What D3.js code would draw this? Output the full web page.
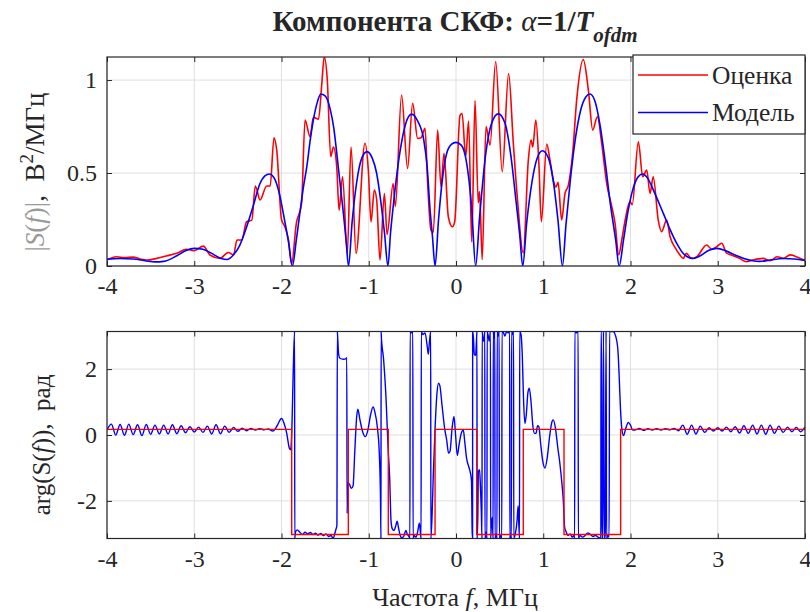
<!DOCTYPE html>
<html>
<head>
<meta charset="utf-8">
<script src="https://cdn.jsdelivr.net/npm/d3@7"></script>
<style>
body { margin: 0; background: #fff; }
text { font-family: "Liberation Serif", "Times New Roman", serif; fill: #262626; }
</style>
</head>
<body>
<div id="chart"></div>
<script>
// ticks
var freqTicks = [-4, -3, -2, -1, 0, 1, 2, 3, 4]
var magTicks = [0, 0.5, 1]
var phaseTicks = [-2, 0, 2]
var legendNames = ["Оценка", "Модель"]

// |S(f)| estimate (red), [f, value]
var estMag = [
  [-4.00, 0.032], [-3.89, 0.050], [-3.80, 0.045], [-3.70, 0.048], [-3.62, 0.038], [-3.545, 0.032],
  [-3.43, 0.041], [-3.32, 0.054], [-3.20, 0.068], [-3.09, 0.090], [-3.00, 0.082], [-2.896, 0.107],
  [-2.82, 0.059], [-2.705, 0.041], [-2.61, 0.073], [-2.55, 0.059], [-2.51, 0.140], [-2.456, 0.140],
  [-2.40, 0.238], [-2.34, 0.247], [-2.30, 0.430], [-2.246, 0.355], [-2.17, 0.430], [-2.13, 0.430],
  [-2.086, 0.690], [-2.055, 0.624], [-2.00, 0.250], [-1.96, 0.210], [-1.92, 0.140], [-1.885, 0.010],
  [-1.83, 0.229], [-1.77, 0.337], [-1.73, 0.785], [-1.673, 0.695], [-1.635, 0.800], [-1.576, 0.790],
  [-1.538, 0.980], [-1.51, 1.125], [-1.475, 0.999], [-1.436, 0.588], [-1.405, 0.640], [-1.367, 0.534],
  [-1.34, 0.300], [-1.30, 0.480], [-1.246, 0.068], [-1.203, 0.640], [-1.146, 0.068], [-1.043, 0.660],
  [-1.005, 0.516], [-0.974, 0.238], [-0.936, 0.409], [-0.909, 0.355], [-0.871, 0.032], [-0.821, 0.390],
  [-0.79, 0.170], [-0.72, 0.444], [-0.695, 0.320], [-0.624, 0.920], [-0.555, 0.525], [-0.497, 0.875],
  [-0.44, 0.686], [-0.40, 0.690], [-0.355, 0.740], [-0.325, 0.445], [-0.287, 0.193], [-0.26, 0.180],
  [-0.21, 0.731], [-0.172, 0.426], [-0.137, 0.606], [-0.088, 0.265], [-0.042, 0.211], [-0.015, 0.238],
  [0.046, 0.810], [0.07, 0.820], [0.111, 0.588], [0.145, 0.780], [0.18, 0.130], [0.218, 0.890],
  [0.255, 0.340], [0.27, 0.400], [0.30, 0.035], [0.344, 0.750], [0.39, 0.650], [0.455, 1.100],
  [0.53, 0.507], [0.603, 1.035], [0.657, 0.660], [0.705, 0.355], [0.771, 0.070], [0.829, 0.570],
  [0.86, 0.677], [0.88, 0.640], [0.915, 0.785], [0.95, 0.550], [0.978, 0.238], [1.04, 0.656],
  [1.077, 0.570], [1.116, 0.460], [1.146, 0.425], [1.17, 0.450], [1.211, 0.247], [1.249, 0.390],
  [1.288, 0.435], [1.337, 0.606], [1.383, 0.892], [1.459, 1.110], [1.517, 0.946], [1.567, 0.731],
  [1.62, 0.803], [1.67, 0.660], [1.727, 0.445], [1.785, 0.320], [1.823, 0.229], [1.865, 0.060],
  [1.90, 0.140], [1.94, 0.250], [1.994, 0.346], [2.02, 0.330], [2.09, 0.668], [2.14, 0.480],
  [2.186, 0.516], [2.224, 0.390], [2.26, 0.480], [2.318, 0.247], [2.357, 0.185], [2.415, 0.247],
  [2.454, 0.157], [2.51, 0.100], [2.567, 0.059], [2.605, 0.041], [2.64, 0.068], [2.70, 0.041],
  [2.76, 0.050], [2.873, 0.113], [2.93, 0.090], [2.99, 0.104], [3.045, 0.122], [3.10, 0.070],
  [3.15, 0.060], [3.25, 0.041], [3.33, 0.023], [3.40, 0.032], [3.52, 0.041], [3.60, 0.028],
  [3.68, 0.050], [3.75, 0.041], [3.83, 0.060], [3.90, 0.050], [4.00, 0.030]
]

// |S(f)| model (blue)
var modelMag = [
  [-4.00, 0.037], [-3.85, 0.040], [-3.70, 0.038], [-3.55, 0.027], [-3.45, 0.022], [-3.35, 0.025],
  [-3.20, 0.055], [-3.10, 0.082], [-3.00, 0.095], [-2.90, 0.090], [-2.80, 0.068], [-2.70, 0.042],
  [-2.62, 0.035], [-2.55, 0.060], [-2.48, 0.110], [-2.40, 0.210], [-2.32, 0.330], [-2.25, 0.440],
  [-2.19, 0.485], [-2.14, 0.495], [-2.08, 0.470], [-2.02, 0.380], [-1.97, 0.260], [-1.92, 0.130],
  [-1.875, 0.0], [-1.83, 0.140], [-1.79, 0.283], [-1.75, 0.420], [-1.71, 0.534], [-1.67, 0.680],
  [-1.635, 0.785], [-1.59, 0.880], [-1.55, 0.925], [-1.50, 0.915], [-1.44, 0.840], [-1.40, 0.740],
  [-1.37, 0.620], [-1.33, 0.450], [-1.29, 0.280], [-1.26, 0.140], [-1.232, 0.0], [-1.19, 0.240],
  [-1.14, 0.445], [-1.08, 0.580], [-1.02, 0.615], [-0.96, 0.580], [-0.91, 0.500], [-0.86, 0.340],
  [-0.82, 0.180], [-0.78, 0.0], [-0.75, 0.180], [-0.72, 0.320], [-0.64, 0.620], [-0.58, 0.760],
  [-0.51, 0.817], [-0.44, 0.780], [-0.37, 0.680], [-0.33, 0.530], [-0.30, 0.320], [-0.27, 0.160],
  [-0.24, 0.0], [-0.20, 0.250], [-0.16, 0.450], [-0.11, 0.600], [-0.05, 0.655], [0.00, 0.665],
  [0.06, 0.650], [0.12, 0.560], [0.18, 0.310], [0.225, 0.0], [0.27, 0.260], [0.34, 0.600],
  [0.41, 0.770], [0.485, 0.818], [0.56, 0.770], [0.63, 0.590], [0.69, 0.340], [0.73, 0.170],
  [0.765, 0.0], [0.81, 0.230], [0.87, 0.450], [0.93, 0.580], [0.99, 0.620], [1.06, 0.580],
  [1.12, 0.440], [1.17, 0.240], [1.22, 0.0], [1.26, 0.220], [1.31, 0.460], [1.37, 0.690],
  [1.43, 0.840], [1.49, 0.910], [1.535, 0.925], [1.59, 0.890], [1.65, 0.760], [1.71, 0.560],
  [1.77, 0.330], [1.83, 0.140], [1.87, 0.0], [1.92, 0.140], [1.97, 0.290], [2.02, 0.400],
  [2.08, 0.475], [2.14, 0.495], [2.20, 0.470], [2.27, 0.400], [2.376, 0.283], [2.45, 0.200],
  [2.53, 0.122], [2.60, 0.070], [2.65, 0.050], [2.72, 0.040], [2.80, 0.055], [2.90, 0.085],
  [2.99, 0.095], [3.10, 0.080], [3.21, 0.057], [3.30, 0.040], [3.40, 0.028], [3.48, 0.025],
  [3.60, 0.032], [3.75, 0.040], [3.88, 0.038], [4.00, 0.030]
]

// phase, red step line: level i holds from edge i to edge i+1
var estPhaseEdges = [-4, -1.883, -1.234, -0.776, -0.24, 0.237, 0.771, 1.238, 1.887, 4]
var estPhaseLevels = [0.17, -3.02, 0.17, -3.02, 0.17, -3.02, 0.17, -3.02, 0.17]

// phase, blue line (wrapped, jumps kept)
var modelPhase = [
  [-4.00, 0.15], [-3.95, 0.33], [-3.90, 0.00], [-3.85, 0.32], [-3.80, -0.01], [-3.75, 0.33],
  [-3.70, 0.01], [-3.65, 0.31], [-3.60, -0.02], [-3.55, 0.32], [-3.50, 0.02], [-3.45, 0.30],
  [-3.40, 0.03], [-3.35, 0.30], [-3.30, 0.03], [-3.25, 0.31], [-3.20, 0.04], [-3.15, 0.28],
  [-3.10, 0.07], [-3.05, 0.25], [-3.00, 0.09], [-2.95, 0.24], [-2.90, 0.08], [-2.85, 0.27],
  [-2.80, 0.03], [-2.75, 0.31], [-2.70, 0.04], [-2.65, 0.27], [-2.60, 0.08], [-2.55, 0.23],
  [-2.50, 0.11], [-2.45, 0.21], [-2.40, 0.13], [-2.35, 0.20], [-2.30, 0.15], [-2.25, 0.19],
  [-2.20, 0.16], [-2.15, 0.18], [-2.10, 0.12], [-2.05, 0.28], [-2.00, 0.50], [-1.97, 0.35],
  [-1.94, 0.05], [-1.91, -0.40], [-1.895, -0.45], [-1.88, 0.30], [-1.865, 2.00], [-1.85, 3.14],
  [-1.848, -3.14], [-1.84, -2.95], [-1.82, -2.88], [-1.79, -2.95], [-1.76, -3.02], [-1.73, -2.95],
  [-1.70, -3.00], [-1.67, -2.96], [-1.64, -3.02], [-1.61, -2.98], [-1.58, -3.04], [-1.55, -2.99],
  [-1.52, -3.05], [-1.49, -3.00], [-1.46, -3.08], [-1.43, -3.05], [-1.41, -3.14], [-1.38, -2.90],
  [-1.365, -2.74], [-1.36, 3.14], [-1.355, 2.90], [-1.345, 2.45], [-1.33, 2.33], [-1.29, 2.30],
  [-1.26, 2.32], [-1.252, 2.35], [-1.248, -2.38], [-1.24, -1.45], [-1.22, -1.50], [-1.20, -1.62],
  [-1.18, -1.55], [-1.16, -0.50], [-1.14, 0.50], [-1.125, 0.78], [-1.10, 0.45], [-1.07, 0.10],
  [-1.04, -0.05], [-1.01, 0.15], [-0.98, 0.60], [-0.95, 0.85], [-0.93, 0.70], [-0.90, 0.20],
  [-0.88, -0.50], [-0.865, -2.00], [-0.86, -3.14], [-0.858, 3.14], [-0.855, 2.95], [-0.83, 2.30],
  [-0.80, 1.00], [-0.78, -0.30], [-0.76, -1.30], [-0.745, -2.60], [-0.73, -2.85], [-0.71, -2.90],
  [-0.69, -2.75], [-0.675, -2.62], [-0.66, -2.80], [-0.64, -3.05], [-0.62, -3.12], [-0.60, -3.08],
  [-0.575, -2.90], [-0.56, -3.00], [-0.535, -3.10], [-0.528, -3.14], [-0.526, 3.14], [-0.515, 3.10],
  [-0.495, 3.14], [-0.492, -3.14], [-0.48, -3.05], [-0.46, -3.10], [-0.44, -2.95], [-0.42, -2.68],
  [-0.41, -2.90], [-0.40, -3.14], [-0.398, 3.14], [-0.38, 3.05], [-0.355, 3.10], [-0.33, 2.70],
  [-0.317, 2.45], [-0.305, 2.80], [-0.29, 3.14], [-0.288, -3.14], [-0.275, -2.50], [-0.26, -1.20],
  [-0.24, 0.20], [-0.22, 1.20], [-0.20, 1.57], [-0.185, 1.50], [-0.16, 0.90], [-0.13, 0.20],
  [-0.107, -0.15], [-0.085, -0.55], [-0.069, -0.50], [-0.045, 0.20], [-0.023, 0.56], [-0.005, 0.00],
  [0.015, -0.62], [0.035, -0.30], [0.06, 0.05], [0.084, 0.15], [0.10, -0.20], [0.122, -0.72],
  [0.145, -0.95], [0.165, -1.15], [0.178, -1.40], [0.185, -2.90], [0.19, -3.14], [0.191, 3.14],
  [0.20, 2.95], [0.21, 2.45], [0.225, 2.42], [0.235, 2.90], [0.24, 3.14], [0.242, -3.14],
  [0.25, -2.50], [0.257, -1.10], [0.27, -1.05], [0.28, -1.55], [0.29, -2.30], [0.298, -3.14],
  [0.30, 3.14], [0.31, 2.90], [0.32, 2.85], [0.33, 3.14], [0.332, -3.14], [0.345, -2.95],
  [0.355, -3.14], [0.357, 3.14], [0.37, 3.00], [0.38, 2.85], [0.395, 3.14], [0.397, -3.14],
  [0.405, -2.75], [0.415, -2.50], [0.425, -3.14], [0.427, 3.14], [0.435, 2.95], [0.445, 3.14],
  [0.447, -3.14], [0.46, -3.00], [0.47, -3.14], [0.472, 3.14], [0.485, 3.00], [0.495, 3.14],
  [0.497, -3.14], [0.51, -3.05], [0.525, -3.14], [0.527, 3.14], [0.545, 3.10], [0.56, 3.00],
  [0.58, 3.14], [0.60, 3.10], [0.615, 3.14], [0.617, -3.14], [0.625, -3.00], [0.635, -3.14],
  [0.637, 3.14], [0.65, 3.05], [0.66, 3.14], [0.662, -3.14], [0.68, -3.00], [0.70, -2.60],
  [0.712, -2.15], [0.72, -2.70], [0.728, -3.14], [0.73, 3.14], [0.745, 3.05], [0.76, 2.40],
  [0.775, 1.00], [0.79, 0.35], [0.805, 0.60], [0.825, 1.30], [0.84, 1.42], [0.86, 1.00],
  [0.88, 0.30], [0.90, 0.05], [0.917, 0.05], [0.935, 0.28], [0.95, 0.25], [0.97, -0.25],
  [0.995, -0.80], [1.02, -1.00], [1.045, -0.70], [1.075, 0.00], [1.10, 0.40], [1.115, 0.46],
  [1.14, 0.20], [1.165, -0.35], [1.19, -0.85], [1.215, -1.50], [1.23, -2.00], [1.245, -2.80],
  [1.26, -2.92], [1.285, -3.05], [1.31, -3.00], [1.33, -3.10], [1.35, -3.05], [1.36, -3.14],
  [1.362, 3.14], [1.38, 3.10], [1.40, 3.14], [1.402, -3.14], [1.42, -3.05], [1.45, -3.10],
  [1.48, -3.05], [1.51, -2.97], [1.54, -3.02], [1.57, -3.08], [1.60, -3.05], [1.63, -3.10],
  [1.66, -3.14], [1.662, 3.14], [1.668, 3.14], [1.67, -3.14], [1.68, -3.10], [1.69, 3.14],
  [1.70, -3.14], [1.71, -3.05], [1.72, 3.14], [1.726, -3.14], [1.74, -3.05], [1.755, -3.10],
  [1.76, 3.14], [1.80, 3.14], [1.83, 3.00], [1.855, 2.60], [1.87, 1.80], [1.885, 0.80],
  [1.90, 0.20], [1.92, -0.02], [1.945, 0.20], [1.975, 0.38], [2.00, 0.30], [2.025, 0.15],
  [2.05, 0.15], [2.10, 0.20], [2.15, 0.14], [2.20, 0.19], [2.25, 0.15], [2.30, 0.19],
  [2.35, 0.15], [2.40, 0.19], [2.45, 0.16], [2.50, 0.20], [2.55, 0.13], [2.60, 0.30],
  [2.65, 0.02], [2.70, 0.30], [2.75, 0.03], [2.80, 0.27], [2.85, 0.08], [2.90, 0.22],
  [2.95, 0.12], [3.00, 0.22], [3.05, 0.12], [3.10, 0.24], [3.15, 0.10], [3.20, 0.25],
  [3.25, 0.06], [3.30, 0.28], [3.35, 0.05], [3.40, 0.30], [3.45, 0.03], [3.50, 0.30],
  [3.55, 0.02], [3.60, 0.30], [3.65, 0.05], [3.70, 0.27], [3.75, 0.08], [3.80, 0.24],
  [3.85, 0.10], [3.90, 0.23], [3.95, 0.10], [4.00, 0.25]
]

var width = 810
var height = 612
var axisColor = "#262626"
var gridColor = "#dfdfdf"

var svg = d3.select("#chart")
    .append("svg")
    .attr("width", width)
    .attr("height", height)

var x = d3.scaleLinear().domain([-4, 4]).range([107, 805])
var yMag = d3.scaleLinear().domain([0, 1.124]).range([266, 57])
var yPh = d3.scaleLinear().domain([-Math.PI, Math.PI]).range([538.5, 331.5])

function panel(id, y, yTicks) {
    var y0 = y.range()[1], y1 = y.range()[0]
    var x0 = x.range()[0], x1 = x.range()[1]
    var g = svg.append("g").attr("id", id)

    svg.append("clipPath").attr("id", id + "-clip")
        .append("rect").attr("x", x0).attr("y", y0).attr("width", x1 - x0).attr("height", y1 - y0)

    // grid
    g.selectAll(".gx").data(freqTicks).enter().append("line")
        .attr("x1", d => x(d)).attr("x2", d => x(d)).attr("y1", y0).attr("y2", y1)
        .attr("stroke", gridColor)
    g.selectAll(".gy").data(yTicks).enter().append("line")
        .attr("y1", d => y(d)).attr("y2", d => y(d)).attr("x1", x0).attr("x2", x1)
        .attr("stroke", gridColor)

    var plot = g.append("g").attr("clip-path", "url(#" + id + "-clip)")

    // axes, ticks pointing inward
    g.append("g").attr("transform", `translate(0,${y1})`)
        .call(d3.axisBottom(x).tickValues(freqTicks).tickSize(-5).tickPadding(11)
            .tickFormat(d => String(d).replace("−", "-")))
    g.append("g").attr("transform", `translate(0,${y0})`)
        .call(d3.axisTop(x).tickValues(freqTicks).tickSize(-5).tickFormat(""))
    g.append("g").attr("transform", `translate(${x0},0)`)
        .call(d3.axisLeft(y).tickValues(yTicks).tickSize(-5).tickPadding(10)
            .tickFormat(d => String(d).replace("−", "-")))
    g.append("g").attr("transform", `translate(${x1},0)`)
        .call(d3.axisRight(y).tickValues(yTicks).tickSize(-5).tickFormat(""))

    g.selectAll(".domain").remove()
    g.selectAll(".tick line").attr("stroke", axisColor)
    g.selectAll(".tick text").style("font-size", "24px").attr("fill", axisColor)

    g.append("rect")
        .attr("x", x0).attr("y", y0).attr("width", x1 - x0).attr("height", y1 - y0)
        .attr("fill", "none").attr("stroke", axisColor).attr("stroke-width", 1.2)

    return plot
}

var magPlot = panel("mag", yMag, magTicks)
var phPlot = panel("ph", yPh, phaseTicks)

var magLine = d3.line()
    .x(d => x(d[0]))
    .y(d => yMag(d[1]))
    .curve(d3.curveMonotoneX)

magPlot.append("path").datum(estMag)
    .attr("d", magLine).attr("fill", "none").attr("stroke", "#ff0000").attr("stroke-width", 1.6)
magPlot.append("path").datum(modelMag)
    .attr("d", magLine).attr("fill", "none").attr("stroke", "#0000ff").attr("stroke-width", 1.6)

var phLine = d3.line()
    .x(d => x(d[0]))
    .y(d => yPh(d[1]))
    .curve(d3.curveMonotoneX)

phPlot.append("path").datum(modelPhase)
    .attr("d", phLine).attr("fill", "none").attr("stroke", "#0000ff").attr("stroke-width", 1.4)

var stepData = estPhaseLevels.map((v, i) => [estPhaseEdges[i], v])
stepData.push([estPhaseEdges[estPhaseEdges.length - 1], estPhaseLevels[estPhaseLevels.length - 1]])
phPlot.append("path").datum(stepData)
    .attr("d", d3.line().x(d => x(d[0])).y(d => yPh(d[1])).curve(d3.curveStepAfter))
    .attr("fill", "none").attr("stroke", "#ff0000").attr("stroke-width", 1.4)

// legend
var legend = svg.append("g").attr("id", "legend")
legend.append("rect")
    .attr("x", 633).attr("y", 55).attr("width", 172).attr("height", 79)
    .attr("fill", "#fff").attr("stroke", axisColor).attr("stroke-width", 1.2)
var legendColors = ["#ff0000", "#0000ff"]
legendNames.forEach(function (name, i) {
    var ly = 75 + i * 37.5
    legend.append("line").attr("x1", 638).attr("x2", 708).attr("y1", ly).attr("y2", ly)
        .attr("stroke", legendColors[i]).attr("stroke-width", 1.6)
    legend.append("text").attr("x", 712).attr("y", ly).attr("dy", "0.35em")
        .style("font-size", "25.5px").text(name)
})

// title
var title = svg.append("text").attr("x", 455).attr("y", 31)
    .attr("text-anchor", "middle").style("font-size", "29px").style("font-weight", "bold")
title.append("tspan").text("Компонента СКФ: ")
title.append("tspan").style("font-style", "italic").style("font-weight", "normal").text("α")
title.append("tspan").text("=1/")
title.append("tspan").style("font-style", "italic").text("T")
title.append("tspan").style("font-style", "italic").style("font-size", "21px").attr("dy", 11).text("ofdm")

// axis labels
var yl1 = svg.append("text").attr("transform", "translate(44,172) rotate(-90)")
    .attr("text-anchor", "middle").style("font-size", "27px")
yl1.append("tspan").attr("fill", "#9a9a9a").text("|")
yl1.append("tspan").attr("fill", "#9a9a9a").style("font-style", "italic").text("S")
yl1.append("tspan").attr("fill", "#9a9a9a").text("(")
yl1.append("tspan").attr("fill", "#9a9a9a").style("font-style", "italic").text("f")
yl1.append("tspan").attr("fill", "#9a9a9a").text(")|")
yl1.append("tspan").text(",\u00a0\u00a0В")
yl1.append("tspan").style("font-size", "19px").attr("dy", -11).text("2")
yl1.append("tspan").attr("dy", 11).text("/МГц")

var yl2 = svg.append("text").attr("transform", "translate(50,445) rotate(-90)")
    .attr("text-anchor", "middle").style("font-size", "25px")
yl2.append("tspan").text("arg(S(")
yl2.append("tspan").style("font-style", "italic").text("f")
yl2.append("tspan").text(")),\u00a0\u00a0рад")

var xl = svg.append("text").attr("x", 455).attr("y", 606)
    .attr("text-anchor", "middle").style("font-size", "26px")
xl.append("tspan").text("Частота ")
xl.append("tspan").style("font-style", "italic").text("f")
xl.append("tspan").text(", МГц")
</script>
</body>
</html>
